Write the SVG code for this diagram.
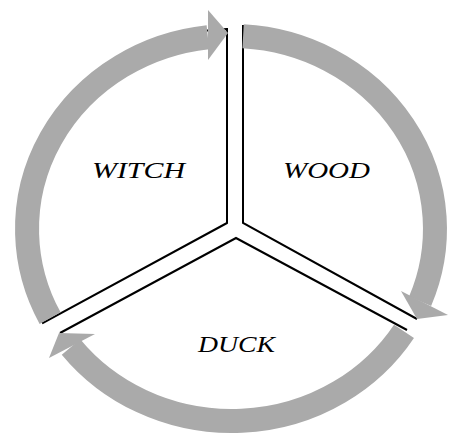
<svg xmlns="http://www.w3.org/2000/svg" width="450" height="434" viewBox="0 0 450 434">
<style>
.ln{fill:none;stroke:#000;stroke-width:2;stroke-linejoin:miter}
.arc{fill:none;stroke:#aaaaaa;stroke-width:24;stroke-linecap:butt}
.head{fill:#aaaaaa;stroke:none}
.lbl{font-family:"Liberation Serif","Times New Roman",serif;font-style:italic;font-size:24px;fill:#000}
</style>
<rect width="450" height="434" fill="#fff"/>
<g id="connectors">
<path class="ln" d="M227 223 L43 323 A217 200 0 0 1 227 29 Z"/>
<path class="ln" d="M243 25 L243 223 L417 319"/>
<path class="ln" d="M60 333 L236 238 L407 330"/>
<path id="arc-witch-wood" class="arc" d="M50.1 318.1 A204 193 0 0 1 207.9 37.2"/>
<polygon class="head" points="208,10 228,33 208,60"/>
<path id="arc-wood-duck" class="arc" d="M243.1 36.3 A204 193 0 0 1 420.1 301.3"/>
<polygon class="head" points="401,291 417,319 448,315"/>
<path id="arc-duck-witch" class="arc" d="M404 331.3 A204 193 0 0 1 71 347"/>
<polygon class="head" points="95,334 59,333 49,358"/>
</g>
<g id="witch"><text class="lbl" x="92" y="178" textLength="93" lengthAdjust="spacingAndGlyphs">WITCH</text></g>
<g id="wood"><text class="lbl" x="283" y="178" textLength="87" lengthAdjust="spacingAndGlyphs">WOOD</text></g>
<g id="duck"><text class="lbl" x="198" y="352" textLength="77" lengthAdjust="spacingAndGlyphs">DUCK</text></g>
</svg>
